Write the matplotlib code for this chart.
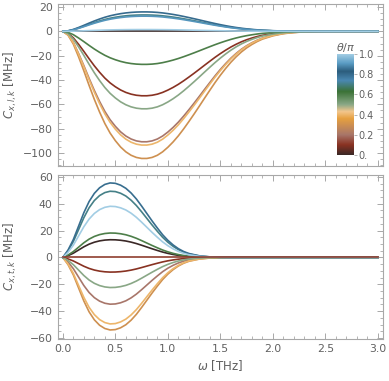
import numpy as np
import matplotlib
matplotlib.use("Agg")
import matplotlib.pyplot as plt
from matplotlib.colors import LinearSegmentedColormap
from matplotlib.ticker import MultipleLocator

# frequency grid (THz) and normalized line shapes
omega_top = [0, 0.05, 0.1, 0.15, 0.2, 0.25, 0.3, 0.35, 0.4, 0.45, 0.5, 0.55, 0.6, 0.65,
             0.7, 0.75, 0.8, 0.85, 0.9, 0.95, 1.0, 1.05, 1.1, 1.15, 1.2, 1.25, 1.3, 1.35,
             1.4, 1.45, 1.5, 1.55, 1.6, 1.65, 1.7, 1.75, 1.8, 1.85, 1.9, 2.0, 2.1, 2.2,
             2.3, 2.4, 2.5, 3.0]
shape_top = [0, 0.03, 0.10, 0.20, 0.31, 0.425, 0.535, 0.635, 0.725, 0.80, 0.86, 0.91, 0.948, 0.975,
             0.992, 1.0, 1.0, 0.992, 0.975, 0.948, 0.912, 0.87, 0.822, 0.768, 0.71, 0.65, 0.588, 0.525,
             0.463, 0.402, 0.345, 0.292, 0.243, 0.2, 0.162, 0.13, 0.103, 0.08, 0.061, 0.035, 0.018, 0.009,
             0.004, 0.001, 0, 0]

omega_bot = [0, 0.05, 0.1, 0.15, 0.2, 0.25, 0.3, 0.35, 0.4, 0.45, 0.5, 0.55, 0.6, 0.65,
             0.7, 0.75, 0.8, 0.85, 0.9, 0.95, 1.0, 1.05, 1.1, 1.15, 1.2, 1.3, 1.4, 1.5,
             1.6, 3.0]
shape_bot = [0, 0.10, 0.24, 0.42, 0.60, 0.75, 0.86, 0.935, 0.98, 1.0, 0.995, 0.97, 0.928, 0.865,
             0.785, 0.69, 0.59, 0.49, 0.395, 0.305, 0.23, 0.168, 0.118, 0.08, 0.053, 0.022, 0.008, 0.002,
             0, 0]

# peak values (MHz) for each theta/pi
theta_top = [0, 0.1, 0.2, 0.3, 0.4, 0.5, 0.6, 0.7, 0.8, 0.9, 1.0]
peak_top = [0, -52.9, -90.7, -104.4, -93.4, -63.6, -27.1, 13.5, 16.0, 12.5, 1.5]

theta_bot = [0, 0.1, 0.2, 0.3, 0.4, 0.5, 0.6, 0.7, 0.85, 1.0, 0.12]
peak_bot = [13.2, -10.9, -34.8, -54.0, -49.5, -22.4, 18.2, 49.3, 55.5, 38.1, 0]

# colour scale of the legend bar
cmap_pos = [0.0, 0.1, 0.2, 0.36, 0.43, 0.5, 0.63, 0.74, 0.83, 0.91, 1.0]
cmap_col = ["#3a2826", "#8a3222", "#a8766a", "#e6a040", "#f3c68c", "#8aa887",
            "#3b7236", "#4a88b2", "#2c5d7c", "#5a9cc4", "#a2cde4"]
theta_cmap = LinearSegmentedColormap.from_list("theta", list(zip(cmap_pos, cmap_col)))

plt.rcParams["font.family"] = "DejaVu Sans"
plt.rcParams["mathtext.fontset"] = "dejavusans"
gray = "#606060"
frame = "#a8a8a8"

fig = plt.figure(figsize=(3.89, 3.81), dpi=100)
ax1 = fig.add_axes([0.148, 0.564, 0.837, 0.4255])
ax2 = fig.add_axes([0.148, 0.110, 0.837, 0.431])


def style(ax):
    for s in ax.spines.values():
        s.set_color(frame)
        s.set_linewidth(0.8)
    ax.tick_params(which="both", direction="in", top=True, right=True,
                   colors=frame, labelcolor=gray, labelsize=7.8)
    ax.tick_params(which="major", length=4, width=0.7)
    ax.tick_params(which="minor", length=2, width=0.6)
    ax.xaxis.set_major_locator(MultipleLocator(0.5))
    ax.xaxis.set_minor_locator(MultipleLocator(0.1))
    ax.yaxis.set_major_locator(MultipleLocator(20))
    ax.yaxis.set_minor_locator(MultipleLocator(5))
    ax.set_xlim(-0.05, 3.05)


for th, pk in zip(theta_top, peak_top):
    ax1.plot(omega_top, np.array(shape_top) * pk, color=theta_cmap(th), lw=1.2)
for th, pk in zip(theta_bot, peak_bot):
    ax2.plot(omega_bot, np.array(shape_bot) * pk, color=theta_cmap(th), lw=1.2)

style(ax1)
style(ax2)
ax1.set_ylim(-110.7, 22.5)
ax2.set_ylim(-60.8, 61.5)
ax1.tick_params(labelbottom=False)
ax2.set_xticks([0, 0.5, 1.0, 1.5, 2.0, 2.5, 3.0])
ax2.set_xticklabels(["0.0", "0.5", "1.0", "1.5", "2.0", "2.5", "3.0"])

ax1.set_ylabel(r"$C_{x,l,k}$ [MHz]", color=gray, fontsize=8.5, labelpad=1)
ax2.set_ylabel(r"$C_{x,t,k}$ [MHz]", color=gray, fontsize=8.5, labelpad=1)
ax2.set_xlabel(r"$\omega$ [THz]", color=gray, fontsize=8.5, labelpad=3)
ax1.yaxis.set_label_coords(-0.118, 0.5)
ax2.yaxis.set_label_coords(-0.118, 0.5)

# legend bar inside the top panel
cax = fig.add_axes([337 / 389, 1 - 155 / 381, 17 / 389, 101 / 381])
grad = np.linspace(0, 1, 256).reshape(-1, 1)
cax.imshow(grad, aspect="auto", cmap=theta_cmap, origin="lower", extent=[0, 1, 0, 1])
cax.set_xticks([])
cax.yaxis.tick_right()
cax.set_yticks([0, 0.2, 0.4, 0.6, 0.8, 1.0])
cax.set_yticklabels(["0.", "0.2", "0.4", "0.6", "0.8", "1.0"])
cax.tick_params(axis="y", direction="out", length=2, width=0.6, colors=frame,
                labelcolor=gray, labelsize=7, pad=1.5)
for s in cax.spines.values():
    s.set_visible(False)
cax.set_title(r"$\theta/\pi$", color=gray, fontsize=8, pad=2)

fig.savefig("out.png", dpi=100)
